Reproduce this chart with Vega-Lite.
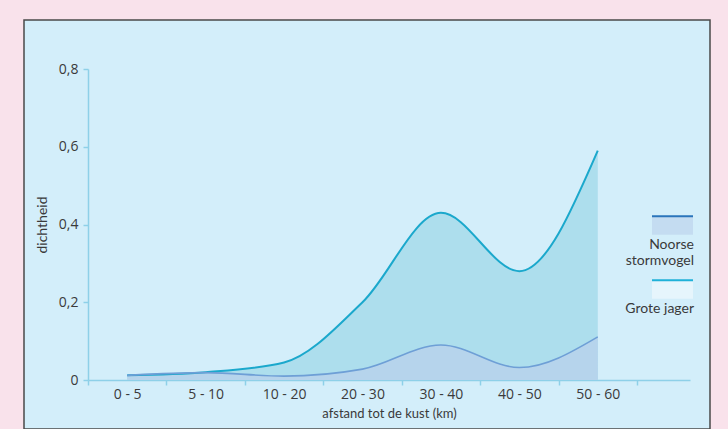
{
  "$schema": "https://vega.github.io/schema/vega-lite/v6.json",
  "width": 686,
  "height": 409,
  "autosize": {"type": "none"},
  "padding": {"left": 24, "top": 20, "right": 18, "bottom": 0},
  "background": "#f9e2eb",
  "view": {"fill": "#d3eefa", "stroke": "#4a4a4a", "strokeWidth": 1.5},
  "config": {
    "font": "Lato",
    "axis": {
      "labelFont": "Open Sans", "labelFontSize": 14, "labelColor": "#3a3a3a",
      "titleFont": "Lato", "titleFontSize": 13, "titleFontWeight": "normal", "titleColor": "#3a3a3a",
      "domainColor": "#8ed0e8", "tickColor": "#8ed0e8", "domainWidth": 1.5, "tickWidth": 1.5,
      "tickSize": 5, "grid": false
    },
    "legend": {"labelFont": "Lato"}
  },
  "data": {
    "values": [
      {"afstand": "0 - 5", "soort": "Grote jager", "dichtheid": 0.012},
      {"afstand": "5 - 10", "soort": "Grote jager", "dichtheid": 0.02},
      {"afstand": "10 - 20", "soort": "Grote jager", "dichtheid": 0.045},
      {"afstand": "20 - 30", "soort": "Grote jager", "dichtheid": 0.2},
      {"afstand": "30 - 40", "soort": "Grote jager", "dichtheid": 0.43},
      {"afstand": "40 - 50", "soort": "Grote jager", "dichtheid": 0.28},
      {"afstand": "50 - 60", "soort": "Grote jager", "dichtheid": 0.59},
      {"afstand": "0 - 5", "soort": "Noorse stormvogel", "dichtheid": 0.012},
      {"afstand": "5 - 10", "soort": "Noorse stormvogel", "dichtheid": 0.019},
      {"afstand": "10 - 20", "soort": "Noorse stormvogel", "dichtheid": 0.01},
      {"afstand": "20 - 30", "soort": "Noorse stormvogel", "dichtheid": 0.028},
      {"afstand": "30 - 40", "soort": "Noorse stormvogel", "dichtheid": 0.09},
      {"afstand": "40 - 50", "soort": "Noorse stormvogel", "dichtheid": 0.032},
      {"afstand": "50 - 60", "soort": "Noorse stormvogel", "dichtheid": 0.111}
    ]
  },
  "encoding": {
    "x": {
      "field": "afstand", "type": "ordinal",
      "sort": ["0 - 5", "5 - 10", "10 - 20", "20 - 30", "30 - 40", "40 - 50", "50 - 60"],
      "bandPosition": 0.5,
      "scale": {"type": "band", "range": [64, 666], "paddingInner": 0, "paddingOuter": 0.338, "align": 0},
      "axis": {
        "title": "afstand tot de kust (km)", "tickBand": "extent", "offset": -49,
        "labelAngle": 0, "labelPadding": 2, "titlePadding": 6
      }
    },
    "y": {
      "field": "dichtheid", "type": "quantitative", "stack": null,
      "scale": {"domain": [0, 0.8], "range": [360, 49], "nice": false},
      "axis": {
        "title": "dichtheid", "offset": -64, "values": [0, 0.2, 0.4, 0.6, 0.8],
        "labelExpr": "datum.value == 0 ? '0' : replace(format(datum.value, '.1f'), '.', ',')",
        "labelPadding": 5, "titlePadding": 9, "titleFontSize": 14
      }
    }
  },
  "layer": [
    {
      "mark": {"type": "area", "interpolate": "monotone", "opacity": 1},
      "encoding": {
        "fill": {
          "field": "soort", "type": "nominal",
          "scale": {"domain": ["Noorse stormvogel", "Grote jager"], "range": ["#b6d4ec", "#addeed"]},
          "legend": null
        }
      }
    },
    {
      "mark": {"type": "line", "interpolate": "monotone"},
      "encoding": {
        "stroke": {
          "field": "soort", "type": "nominal",
          "scale": {"domain": ["Noorse stormvogel", "Grote jager"], "range": ["#6e9fd6", "#1ba8cc"]},
          "legend": null
        },
        "strokeWidth": {
          "field": "soort", "type": "nominal",
          "scale": {"domain": ["Noorse stormvogel", "Grote jager"], "range": [1.6, 2]},
          "legend": null
        }
      }
    },
    {
      "mark": {"type": "area", "interpolate": "monotone", "opacity": 0},
      "encoding": {
        "fill": {
          "field": "soort", "type": "nominal",
          "scale": {"domain": ["Noorse stormvogel", "Grote jager"], "range": ["#c4dcf1", "#e6f5fc"]},
          "legend": {
            "orient": "none", "legendX": 627, "legendY": 184, "title": null,
            "symbolType": "M-1,-0.45H1V0.45H-1Z", "symbolSize": 1681,
            "symbolStrokeWidth": 2, "symbolDash": [41, 300], "symbolOpacity": 1,
            "labelAlign": "right", "labelBaseline": "top", "labelFontSize": 14, "labelColor": "#3a3a3a",
            "labelOffset": 0, "labelLimit": 300, "rowPadding": -4,
            "labelExpr": "datum.label == 'Noorse stormvogel' ? ['Noorse', 'stormvogel'] : datum.label",
            "encode": {
              "symbols": {"update": {
                "stroke": {"signal": "datum.value === 'Noorse stormvogel' ? '#2a74bb' : '#1fb1d8'"}
              }},
              "labels": {"update": {"dy": {"value": 12}}}
            }
          }
        }
      }
    }
  ],
  "resolve": {"scale": {"fill": "independent"}}
}
